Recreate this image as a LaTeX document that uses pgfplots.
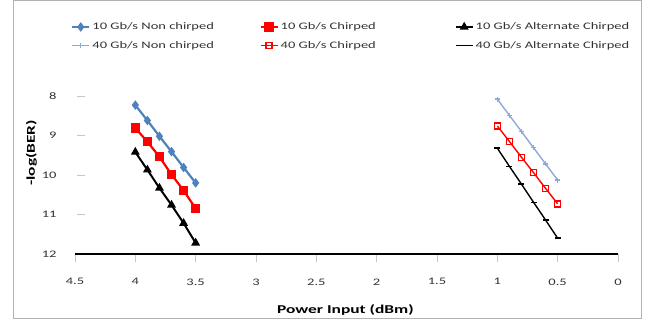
\documentclass[border=0pt]{standalone}
\usepackage{fontspec}
\setmainfont{Carlito}[FakeStretch=1.45]
\usepackage{pgfplots}
\pgfplotsset{compat=1.18}
\definecolor{cblue}{HTML}{4F81BD}
\definecolor{clblue}{HTML}{8EA9DB}
\definecolor{cred}{HTML}{FF0000}
\begin{document}
\begin{tikzpicture}[x=1pt,y=1pt]
\useasboundingbox (0,0) rectangle (648,320);
\draw[gray!60, line width=1pt] (13,1) rectangle (641,319);
\begin{axis}[
  at={(75pt,66pt)}, anchor=south west,
  scale only axis, width=543pt, height=158pt,
  xmin=0, xmax=4.5, ymin=8, ymax=12,
  x dir=reverse, y dir=reverse,
  axis line style={draw=none},
  clip=false,
  xtick={0,0.5,1,1.5,2,2.5,3,3.5,4,4.5},
  ytick={8,9,10,11,12},
  xtick pos=left, ytick pos=left,
  xticklabel pos=left, yticklabel pos=left,
  tick align=outside, major tick length=8pt,
  x tick style={gray!45, line width=0.8pt},
  y tick style={gray!45, line width=0.8pt, xshift=10pt},
  /pgf/number format/assume math mode=true,
  ticklabel style={font=\fontsize{10}{12}\selectfont, text=black!80},
  xticklabel style={yshift=-13pt},
  yticklabel style={xshift=-7pt},
  xlabel={\textbf{Power Input (dBm)}},
  xlabel style={font=\fontsize{12}{14}\selectfont, at={(axis description cs:0.498,-0.355)}, anchor=center},
  ylabel={\textbf{-log(BER)}},
  ylabel style={font=\fontsize{12}{14}\selectfont, at={(axis description cs:-0.08,0.64)}, anchor=center, rotate=0},
  legend columns=3,
  legend cell align=left,
  legend style={at={(axis description cs:-0.013,1.49)}, anchor=north west, draw=none, fill=none,
    font=\fontsize{10}{12}\selectfont, text=black!80, row sep=6pt},
]
\draw[black, line width=1.5pt] (axis cs:4.5,12) -- (axis cs:0,12);
\addplot[color=cblue, line width=2.2pt, mark=diamond*, mark size=3pt] coordinates {(4,8.23)(3.9,8.62)(3.8,9.02)(3.7,9.41)(3.6,9.81)(3.5,10.20)};
\addlegendentry{\makebox[165pt][l]{10 Gb/s Non chirped}}
\addplot[color=cred, line width=2.2pt, mark=square*, mark size=3.5pt] coordinates {(4,8.81)(3.9,9.16)(3.8,9.54)(3.7,9.99)(3.6,10.39)(3.5,10.85)};
\addlegendentry{\makebox[172pt][l]{10 Gb/s Chirped}}
\addplot[color=black, line width=2pt, mark=triangle*, mark size=3.2pt] coordinates {(4,9.42)(3.9,9.87)(3.8,10.33)(3.7,10.76)(3.6,11.22)(3.5,11.72)};
\addlegendentry{10 Gb/s Alternate Chirped}
\addplot[color=clblue, line width=1.4pt, mark=+, mark size=2.5pt] coordinates {(1,8.08)(0.9,8.49)(0.8,8.90)(0.7,9.31)(0.6,9.72)(0.5,10.13)};
\addlegendentry{\makebox[165pt][l]{40 Gb/s Non chirped}}
\addplot[color=cred, line width=1.4pt, mark=square, mark size=3pt] coordinates {(1,8.76)(0.9,9.15)(0.8,9.55)(0.7,9.94)(0.6,10.34)(0.5,10.73)};
\addlegendentry{\makebox[172pt][l]{40 Gb/s Chirped}}
\addplot[color=black, line width=1.4pt, mark=-, mark size=3pt] coordinates {(1,9.32)(0.9,9.78)(0.8,10.23)(0.7,10.69)(0.6,11.14)(0.5,11.6)};
\addlegendentry{40 Gb/s Alternate Chirped}
\end{axis}
\end{tikzpicture}
\end{document}
